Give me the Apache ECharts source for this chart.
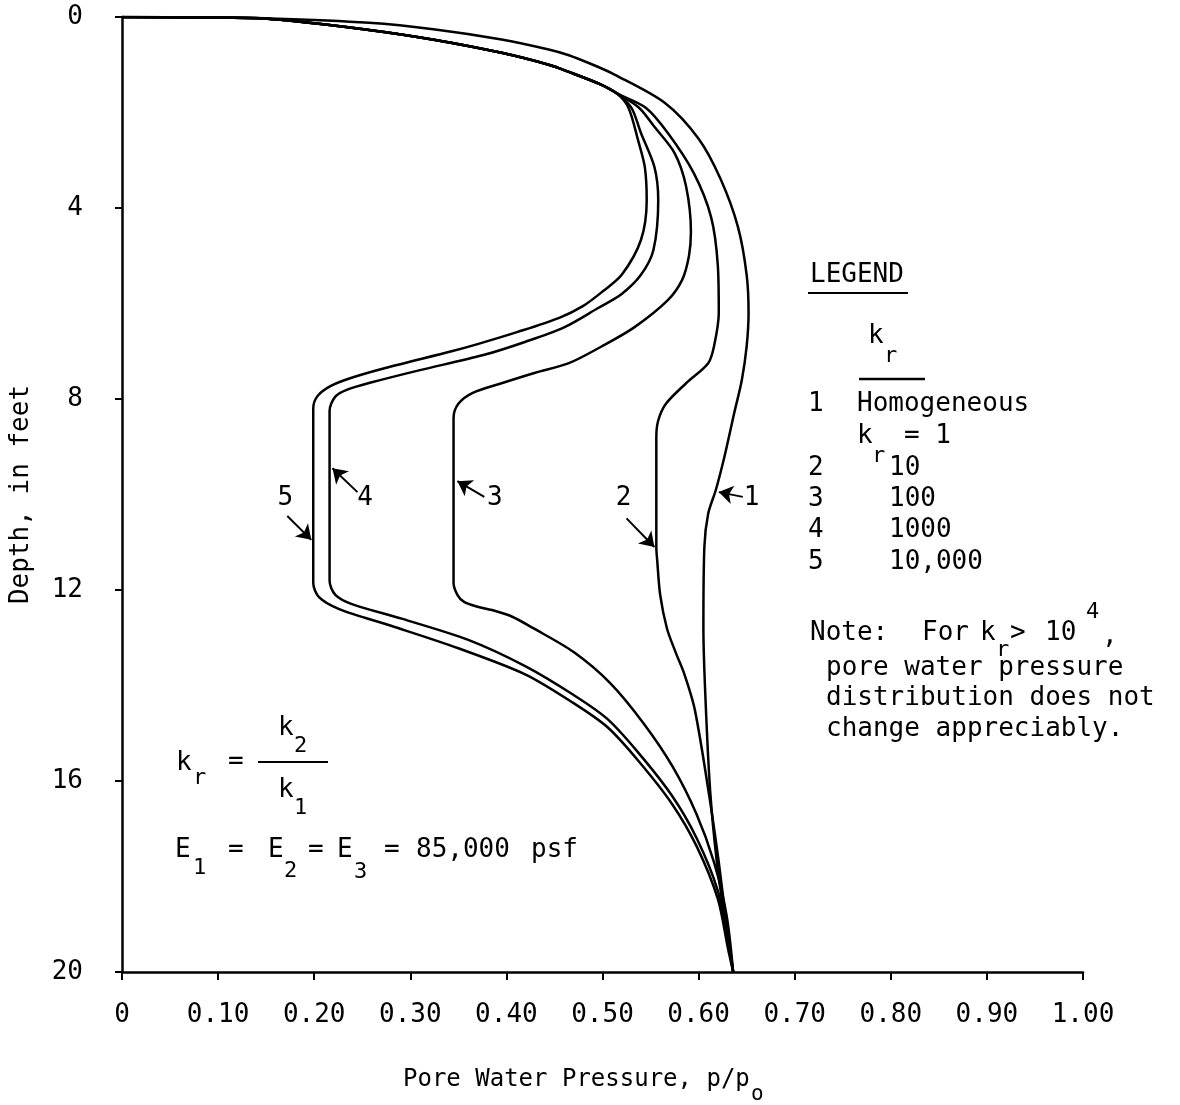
<!DOCTYPE html>
<html><head><meta charset="utf-8">
<script src="https://cdn.jsdelivr.net/npm/echarts@6/dist/echarts.min.js"></script>
<style>html,body{margin:0;padding:0;background:#fff}#c{width:1180px;height:1105px}</style>
</head><body><div id="c"></div>
<script>
// ---- data: [pore water pressure p/p0, depth ft] ----
const xTickLabels = ['0','0.10','0.20','0.30','0.40','0.50','0.60','0.70','0.80','0.90','1.00'];
const yTickLabels = ['0','4','8','12','16','20'];

const bundleTop = [[0,0],[0.08,0.01],[0.154,0.04],[0.257,0.27],[0.326,0.48],[0.395,0.75],[0.444,1.0],[0.465,1.15],[0.499,1.42],[0.515,1.6]];

const curve1 = [[0,0],[0.08,0.01],[0.154,0.03],[0.257,0.12],[0.326,0.26],[0.395,0.47],[0.444,0.68],[0.465,0.8],[0.49,1.0],[0.512,1.2],[0.565,1.8],[0.600,2.55],[0.623,3.4],[0.641,4.4],[0.650,5.4],[0.652,6.2],[0.650,6.9],[0.645,7.6],[0.637,8.3],[0.627,9.2],[0.618,9.9],[0.610,10.4],[0.606,11.1],[0.605,12.8],[0.607,14.2],[0.612,16.2],[0.619,17.7],[0.628,19.0],[0.636,20]];

const curve2Tail = [[0.545,1.9],[0.568,2.43],[0.595,3.27],[0.613,4.19],[0.620,5.2],[0.621,6.2],[0.616,6.9],[0.610,7.25],[0.587,7.67],[0.566,8.1],[0.558,8.45],[0.556,8.8],[0.556,11.1],[0.557,11.4],[0.560,12.1],[0.567,12.8],[0.576,13.3],[0.585,13.75],[0.596,14.5],[0.611,16.3],[0.621,17.7],[0.629,19.0],[0.636,20]];

const curve3Tail = [[0.538,1.9],[0.554,2.3],[0.575,2.85],[0.587,3.55],[0.592,4.5],[0.590,5.0],[0.583,5.5],[0.568,5.93],[0.533,6.5],[0.499,6.9],[0.465,7.25],[0.430,7.45],[0.395,7.67],[0.365,7.87],[0.350,8.1],[0.345,8.4],[0.345,11.85],[0.349,12.1],[0.356,12.25],[0.370,12.35],[0.385,12.42],[0.405,12.55],[0.428,12.8],[0.470,13.3],[0.508,13.95],[0.543,14.8],[0.573,15.7],[0.598,16.7],[0.616,17.7],[0.629,18.8],[0.636,20]];

const curve4Tail = [[0.530,1.9],[0.540,2.43],[0.554,3.14],[0.558,3.83],[0.553,4.88],[0.540,5.4],[0.520,5.8],[0.495,6.1],[0.460,6.5],[0.420,6.8],[0.376,7.08],[0.309,7.4],[0.260,7.65],[0.235,7.8],[0.222,7.95],[0.216,8.25],[0.216,11.8],[0.222,12.1],[0.240,12.3],[0.291,12.6],[0.361,13.05],[0.420,13.6],[0.470,14.2],[0.505,14.7],[0.537,15.4],[0.572,16.3],[0.598,17.2],[0.620,18.3],[0.631,19.4],[0.636,20]];

const curve5Tail = [[0.527,1.9],[0.537,2.58],[0.544,3.14],[0.546,3.83],[0.540,4.67],[0.520,5.4],[0.500,5.75],[0.480,6.05],[0.455,6.3],[0.411,6.6],[0.370,6.85],[0.343,7.0],[0.274,7.35],[0.235,7.58],[0.215,7.75],[0.203,7.95],[0.199,8.2],[0.199,11.85],[0.205,12.15],[0.226,12.4],[0.280,12.75],[0.350,13.22],[0.420,13.77],[0.470,14.37],[0.505,14.87],[0.537,15.57],[0.572,16.47],[0.598,17.37],[0.620,18.47],[0.631,19.55],[0.636,20]];

const curveNames = ['1','2','3','4','5'];
// pointer labels: [label x, label depth]
const labelAnchors = [[0.655,10.08],[0.522,10.08],[0.388,10.08],[0.253,10.08],[0.170,10.08]];
// pointer arrows: [from, to]
const arrowFrom = [[0.646,10.05],[0.525,10.5],[0.377,10.05],[0.245,9.95],[0.172,10.45]];
const arrowTo   = [[0.621,9.95],[0.554,11.1],[0.349,9.72],[0.219,9.45],[0.197,10.95]];

const curves = [curve1, bundleTop.concat(curve2Tail), bundleTop.concat(curve3Tail), bundleTop.concat(curve4Tail), bundleTop.concat(curve5Tail)];

const FF = "'DejaVu Sans Mono', monospace";
const chart = echarts.init(document.getElementById('c'), null, {renderer:'canvas'});

function T(text, x, y, size){
  return {type:'text', x:x, y:y, style:{text:text, fontSize:size||26, fontFamily:FF, fill:'#000', align:'left', verticalAlign:'middle'}};
}
function L(x1,y1,x2,y2,w){
  return {type:'line', shape:{x1:x1,y1:y1,x2:x2,y2:y2}, style:{stroke:'#000', lineWidth:w||2}};
}

const graphics = [
  T('LEGEND',810,275), L(808,293,908,293,2),
  T('k',868,336), T('r',884,356,22), L(859,379,925,379,2.5),
  T('1',808,404), T('Homogeneous',857,404),
  T('k',857,436), T('r',872,456,22), T('= 1',904,436),
  T('2',808,468), T('10',889,468),
  T('3',808,499), T('100',889,499),
  T('4',808,530), T('1000',889,530),
  T('5',808,562), T('10,000',889,562),
  T('Note:',810,633), T('For',922,633), T('k',980,633), T('r',996,650,22), T('>',1010,633), T('10',1045,633), T('4',1086,612,22), T(',',1102,636),
  T('pore water pressure',826,668),
  T('distribution does not',826,698),
  T('change appreciably.',826,729),
  T('k',176,763), T('r',193,778,22), T('=',228,762),
  T('k',278,728), T('2',294,746,22), L(258,762,328,762,2), T('k',278,790), T('1',294,808,22),
  T('E',175,850), T('1',193,868,22), T('=',228,850), T('E',268,850), T('2',284,871,22), T('=',308,850), T('E',337,850), T('3',354,872,22), T('=',384,850), T('85,000',416,850), T('psf',531,850),
  T('Pore Water Pressure, p/p',403,1080,24), T('o',751,1095,21)
];

const series = curves.map((d,i)=>({
  name: curveNames[i], type:'line', data:d, showSymbol:false, smooth:0.3,
  lineStyle:{color:'#000', width:2.5}, z:3, silent:true, animation:false
}));

series.push({
  type:'scatter', name:'labels', symbolSize:1, silent:true, animation:false,
  itemStyle:{color:'#fff', opacity:0},
  data: labelAnchors.map((p,i)=>({value:p, name:curveNames[i]})),
  label:{show:true, position:'inside', formatter:'{b}', fontSize:26, fontFamily:FF, color:'#000', opacity:1},
  markLine:{
    silent:true, animation:false, symbol:['none','arrow'], symbolSize:14, precision:3,
    label:{show:false},
    lineStyle:{color:'#000', width:2, type:'solid', opacity:1, curveness:0.3},
    itemStyle:{color:'#000'},
    data: arrowFrom.map((f,i)=>[{coord:f},{coord:arrowTo[i]}])
  }
});

chart.setOption({
  animation:false,
  backgroundColor:'#fff',
  grid:{left:119, top:17, width:964, height:955, containLabel:false},
  xAxis:{
    type:'value', min:0, max:1, interval:0.1,
    axisLine:{show:true, onZero:false, lineStyle:{color:'#000', width:2.5}},
    axisTick:{show:true, inside:false, length:8, lineStyle:{color:'#000', width:2}},
    splitLine:{show:false},
    axisLabel:{margin:30, fontSize:26, fontFamily:FF, color:'#000', formatter:(v)=>xTickLabels[Math.round(v*10)]}
  },
  yAxis:{
    type:'value', min:0, max:20, interval:4, inverse:true,
    name:'Depth, in feet', nameLocation:'middle', nameGap:88, nameRotate:90,
    nameTextStyle:{fontSize:26, fontFamily:FF, color:'#000'},
    axisLine:{show:true, onZero:false, lineStyle:{color:'#000', width:2.5}},
    axisTick:{show:true, inside:false, length:7, lineStyle:{color:'#000', width:2}},
    splitLine:{show:false},
    axisLabel:{margin:39, fontSize:26, fontFamily:FF, color:'#000', formatter:(v)=>yTickLabels[Math.round(v/4)]}
  },
  series: series,
  graphic: graphics
});
</script></body></html>
